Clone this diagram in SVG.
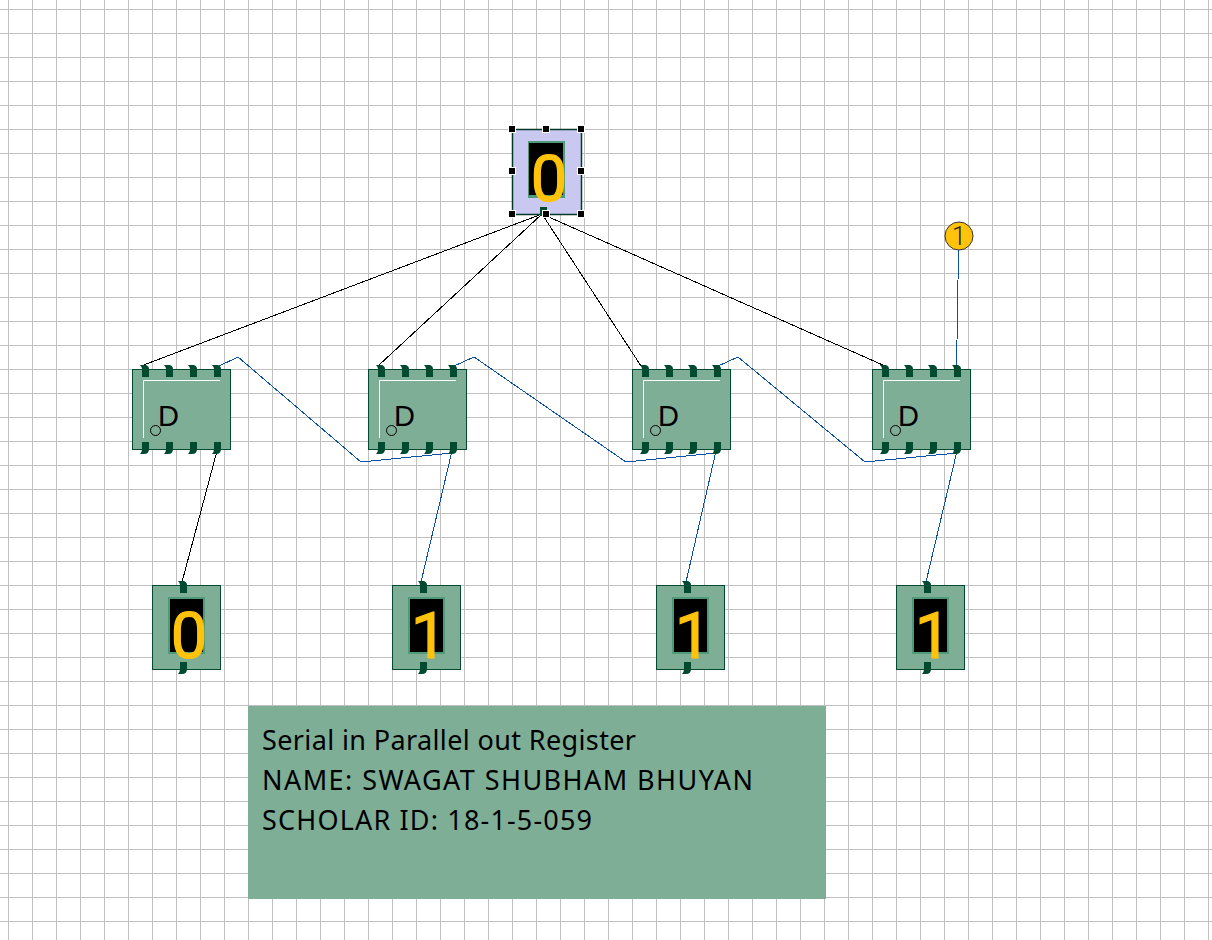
<svg xmlns="http://www.w3.org/2000/svg" width="1212" height="940" viewBox="0 0 1212 940">
<style>
.wk{fill:none;stroke:#000;stroke-width:1;shape-rendering:crispEdges}
.wb{fill:none;stroke:#0a50a8;stroke-width:1;shape-rendering:crispEdges}
.body{fill:#7fae97;stroke:#004a2f;stroke-width:1}
.pin{fill:#004a2f}
.dg{font-family:Roboto,sans-serif;font-size:65px;fill:#ffc30b;stroke:#ffc30b;stroke-width:1.2;text-anchor:middle}
.d{font-family:"Liberation Sans",sans-serif;font-size:29px;fill:#000}
.lb{font-family:"Noto Sans",sans-serif;font-size:27px;fill:#000}
.h{fill:#000;stroke:#fff;stroke-width:1}
</style>
<defs>
<pattern id="grid" width="24" height="24" patternUnits="userSpaceOnUse" x="0" y="0">
<rect x="8" y="0" width="1" height="24" fill="#c0c0c0"/>
<rect x="0" y="9" width="24" height="1" fill="#c0c0c0"/>
</pattern>
<path id="pt" class="pin" d="M-5,-5 L1,-5 Q4,-4 4,-1 L4,7 L-3,7 L-3,-1 Q-3,-3 -5,-5 Z"/>
<path id="pb" class="pin" d="M-3,-7 L4,-7 L4,0 Q4,5 -1,5 L-5,5 Q-3,3 -3,0 Z"/>
<g id="ff">
<rect class="body" x="0.5" y="0.5" width="98" height="80"/>
<use href="#pt" x="13" y="1"/><use href="#pt" x="37" y="1"/><use href="#pt" x="61" y="1"/><use href="#pt" x="85" y="1"/>
<use href="#pb" x="13" y="80"/><use href="#pb" x="37" y="80"/><use href="#pb" x="61" y="80"/><use href="#pb" x="85" y="80"/>
<path d="M11.500,69 L11.500,11.500 L88,11.500" fill="none" stroke="#fff" stroke-width="1"/>
<circle cx="23.500" cy="61.500" r="5" fill="none" stroke="#000" stroke-width="1"/>
<text class="d" x="26" y="56.5">D</text>
</g>
<g id="disp">
<rect class="body" x="0.5" y="0.5" width="68" height="84"/>
<rect x="16" y="12" width="37" height="57" fill="#4f9a78"/>
<rect x="18" y="14" width="33" height="53" fill="#000"/>
<use href="#pt" x="31" y="1"/>
<use href="#pb" x="31" y="84"/>
</g>
</defs>
<rect width="1212" height="940" fill="#fff"/>
<rect width="1212" height="940" fill="url(#grid)"/>
<g id="connectors">
<path class="wk" d="M542,214 L141,366"/>
<path class="wk" d="M542,214 L378,366"/>
<path class="wk" d="M542,214 L641,366"/>
<path class="wk" d="M542,214 L885,366"/>
<path class="wb" d="M217,367 L238,357 L361,462 L452,453"/>
<path class="wb" d="M452,367 L474,357 L626,462 L716,453"/>
<path class="wb" d="M716,367 L738,357 L865,462 L957,453"/>
<path class="wk" d="M217,451 L182,582"/>
<path class="wb" d="M452,451 L421,582"/>
<path class="wb" d="M716,451 L686,582"/>
<path class="wb" d="M957,451 L926,582"/>
<path class="wb" d="M959,250 L958,280 L957,340 L956,367"/>
</g>
<g id="ff1"><use href="#ff" x="132" y="369"/></g>
<g id="ff2"><use href="#ff" x="368" y="369"/></g>
<g id="ff3"><use href="#ff" x="632" y="369"/></g>
<g id="ff4"><use href="#ff" x="872" y="369"/></g>
<g id="out1"><use href="#disp" x="152" y="585"/><text class="dg" x="189" y="658">0</text></g>
<g id="out2"><use href="#disp" x="392" y="585"/><text class="dg" x="429" y="658">1</text></g>
<g id="out3"><use href="#disp" x="656" y="585"/><text class="dg" x="693" y="658">1</text></g>
<g id="out4"><use href="#disp" x="896" y="585"/><text class="dg" x="933" y="658">1</text></g>
<g id="input">
<rect x="512.5" y="129.5" width="69" height="85" fill="#c8c8f0" stroke="#003a26" stroke-width="1.5"/>
<rect x="528" y="141" width="37" height="57" fill="#4f9a78"/>
<rect x="529" y="143" width="34" height="52" fill="#000"/>
<rect class="pin" x="540" y="207" width="7" height="9"/>
<text class="dg" x="549" y="201">0</text>
<rect class="h" x="508.500" y="125.500" width="7" height="7"/>
<rect class="h" x="542.500" y="125.500" width="7" height="7"/>
<rect class="h" x="577.500" y="125.500" width="7" height="7"/>
<rect class="h" x="508.500" y="167.500" width="7" height="7"/>
<rect class="h" x="577.500" y="167.500" width="7" height="7"/>
<rect class="h" x="508.500" y="210.500" width="7" height="7"/>
<rect class="h" x="542.500" y="210.500" width="7" height="7"/>
<rect class="h" x="577.500" y="210.500" width="7" height="7"/>
</g>
<g id="led">
<circle cx="959" cy="236" r="14" fill="#ffc30b" stroke="#333" stroke-width="1"/>
<text x="959" y="245" font-family="Roboto,sans-serif" font-weight="300" font-size="25" fill="#222" text-anchor="middle">1</text>
</g>
<g id="label">
<rect x="248" y="706" width="578" height="193" fill="#7fae97"/>
<text class="lb" x="262" y="750" textLength="374">Serial in Parallel out Register</text>
<text class="lb" x="262" y="790" textLength="491">NAME: SWAGAT SHUBHAM BHUYAN</text>
<text class="lb" x="262" y="830" textLength="330">SCHOLAR ID: 18-1-5-059</text>
</g>
</svg>
